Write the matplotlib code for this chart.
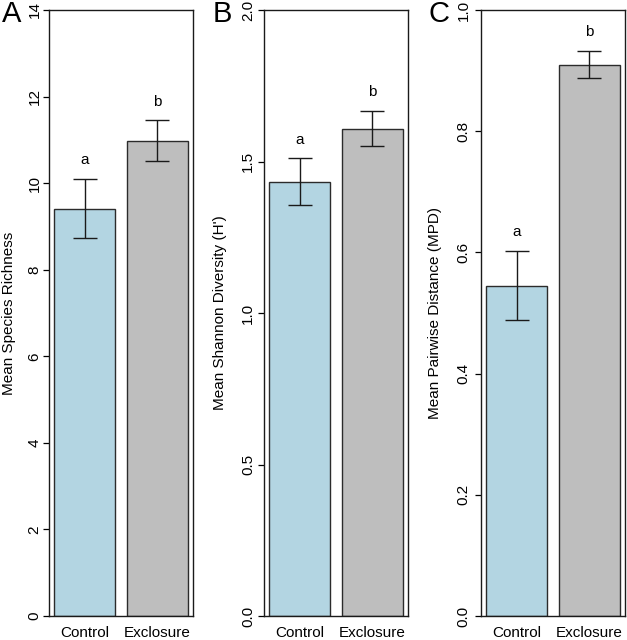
import matplotlib
matplotlib.use("Agg")
import matplotlib.pyplot as plt
import matplotlib.transforms as mtransforms
import numpy as np

plt.rcParams['font.family'] = ['Liberation Sans', 'DejaVu Sans']

groups = ["Control", "Exclosure"]
richness_mean = [9.41, 10.98]
richness_se = [0.68, 0.47]
shannon_mean = [1.433, 1.608]
shannon_se = [0.077, 0.058]
mpd_mean = [0.545, 0.910]
mpd_se = [0.057, 0.023]
sig_letters = ["a", "b"]

panels = [
    ("A", richness_mean, richness_se, "Mean Species Richness", 14, [0, 2, 4, 6, 8, 10, 12, 14], ["0", "2", "4", "6", "8", "10", "12", "14"]),
    ("B", shannon_mean, shannon_se, "Mean Shannon Diversity (H')", 2.0, [0, 0.5, 1.0, 1.5, 2.0], ["0.0", "0.5", "1.0", "1.5", "2.0"]),
    ("C", mpd_mean, mpd_se, "Mean Pairwise Distance (MPD)", 1.0, [0, 0.2, 0.4, 0.6, 0.8, 1.0], ["0.0", "0.2", "0.4", "0.6", "0.8", "1.0"]),
]

colors = ["#B3D5E2", "#BEBEBE"]
W, H = 627, 640
fig = plt.figure(figsize=(W / 100, H / 100), dpi=100)
lefts = [49, 264, 481]
letter_x = [2, 213, 428]
ylab_off = [-33, -37, -39]
tick_pad = [0.8, 2.0, 3.0]
aw = 144
top, bot = 10, 616

x = np.array([0.7, 1.9])
shift = mtransforms.ScaledTranslation(-6.5 / 100, 0, fig.dpi_scale_trans)
for i, ((lab, means, ses, ylabel, ymax, ticks, ticklabels), lx) in enumerate(zip(panels, lefts)):
    ax = fig.add_axes([lx / W, 1 - bot / H, aw / W, (bot - top) / H])
    ax.bar(x, means, width=1.0, color=colors, edgecolor="#2b2b2b", linewidth=1.0)
    ax.errorbar(x, means, yerr=ses, fmt="none", ecolor="#1a1a1a", elinewidth=1.0, capsize=8.5, capthick=1.0)
    for xi, m, s, t in zip(x, means, ses, sig_letters):
        ax.text(xi, m + s + 0.031 * ymax, t, ha="center", va="center", fontsize=11)
    ax.set_xlim(0.2 - 0.088, 2.4 + 0.088)
    ax.set_ylim(0, ymax)
    ax.set_yticks(ticks)
    ax.set_yticklabels(ticklabels, rotation=90, va="center", fontsize=11)
    ax.set_xticks(x)
    ax.set_xticklabels(groups, fontsize=11)
    for tl in ax.get_xticklabels():
        tl.set_transform(tl.get_transform() + shift)
    ax.tick_params(axis="x", length=0, pad=7)
    ax.tick_params(axis="y", length=4.5, width=0.9, pad=tick_pad[i], direction="out")
    for sp in ax.spines.values():
        sp.set_linewidth(1.0)
        sp.set_color("#1a1a1a")
    ax.set_ylabel(ylabel, fontsize=11)
    ax.yaxis.set_label_coords(ylab_off[i] / aw, 0.5)
    fig.text(letter_x[i] / W, 1 - 14 / H, lab, fontsize=21, ha="left", va="center")

fig.savefig("out.png", dpi=100)
